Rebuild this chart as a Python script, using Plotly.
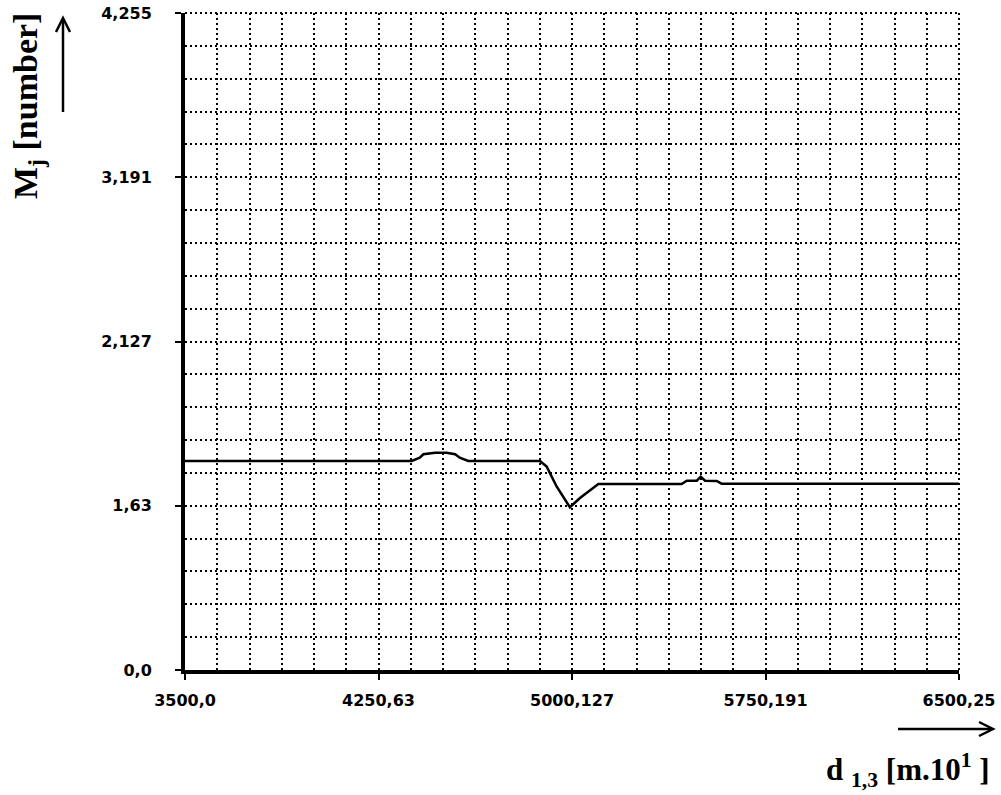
import plotly.graph_objects as go

# Data
d13 = [3500.0, 4379, 4410, 4424, 4469, 4514, 4547, 4565, 4598, 4876, 4902, 4941,
       4992, 5031, 5082, 5102, 5425, 5445, 5484, 5499, 5516, 5561, 5580, 6500.25]
mj = [1.354, 1.354, 1.375, 1.397, 1.407, 1.407, 1.397, 1.375, 1.354, 1.354, 1.317, 1.187,
      1.054, 1.114, 1.179, 1.205, 1.205, 1.226, 1.226, 1.252, 1.226, 1.224, 1.207, 1.207]

x_tickvals = [3500.0, 4250.0625, 5000.125, 5750.1875, 6500.25]
x_ticktext = ["3500,0", "4250,63", "5000,127", "5750,191", "6500,25"]
y_tickvals = [0.0, 1.06375, 2.1275, 3.19125, 4.255]
y_ticktext = ["0,0", "1,63", "2,127", "3,191", "4,255"]

fig = go.Figure()
fig.add_trace(go.Scatter(x=d13, y=mj, mode="lines",
                         line=dict(color="black", width=2.5), showlegend=False))

tickfont = dict(family="DejaVu Sans", size=16, color="black", weight="bold")
grid = dict(showgrid=True, gridcolor="black", gridwidth=2, griddash="2px,3px")

fig.update_xaxes(range=[3500.0, 6500.25], tickvals=x_tickvals, ticktext=x_ticktext,
                 tickfont=tickfont, ticks="outside", ticklen=6, tickwidth=2, tickcolor="black",
                 showline=True, linecolor="black", linewidth=4, zeroline=False,
                 ticklabelstandoff=7, automargin=False,
                 minor=dict(tick0=3500.0, dtick=3000.25 / 24, ticks="", **grid), **grid)
fig.update_yaxes(range=[0, 4.255], tickvals=y_tickvals, ticktext=y_ticktext,
                 tickfont=tickfont, ticks="outside", ticklen=6, tickwidth=2, tickcolor="black",
                 showline=True, linecolor="black", linewidth=4, zeroline=False,
                 ticklabelstandoff=20, automargin=False,
                 minor=dict(tick0=0, dtick=4.255 / 20, ticks="", **grid), **grid)

W, H = 1001, 795
L, R, T, B = 185, 42, 13, 125
pw, ph = W - L - R, H - T - B


def px(x):
    return (x - L) / pw


def py(y):
    return (H - B - y) / ph


# dotted border lines at the top and right edge (grid lines at the range ends)
for x0, y0, x1, y1 in [(0, 1, 1, 1), (1, 0, 1, 1)]:
    fig.add_shape(type="line", xref="paper", yref="paper", x0=x0, y0=y0, x1=x1, y1=y1,
                  line=dict(color="black", width=2, dash="2px,3px"))

title_font = dict(family="Liberation Serif", size=34, color="black", weight="bold")
fig.add_annotation(xref="paper", yref="paper", x=px(28), y=py(106), text="M<sub>j</sub> [number]",
                   textangle=-90, showarrow=False, font=title_font, xanchor="center", yanchor="middle")
fig.add_annotation(xref="paper", yref="paper", x=px(992), y=py(770),
                   text="d <sub>1,3</sub> [m.10<sup>1</sup> ]",
                   showarrow=False, font=dict(family="Liberation Serif", size=31, color="black", weight="bold"),
                   xanchor="right", yanchor="middle")


# arrows drawn as shapes (shaft + open V head)
def seg(pts):
    return "M " + " L ".join(f"{px(a)},{py(b)}" for a, b in pts)


arrow_line = dict(color="black", width=2.5)
fig.add_shape(type="path", xref="paper", yref="paper", path=seg([(63, 112), (63, 19)]), line=arrow_line)
fig.add_shape(type="path", xref="paper", yref="paper", path=seg([(56, 32), (63, 18), (70, 32)]), line=arrow_line)
fig.add_shape(type="path", xref="paper", yref="paper", path=seg([(898, 729), (992, 729)]), line=arrow_line)
fig.add_shape(type="path", xref="paper", yref="paper", path=seg([(979, 722), (993, 729), (979, 736)]), line=arrow_line)

fig.update_layout(width=W, height=H, margin=dict(l=L, r=R, t=T, b=B),
                  paper_bgcolor="white", plot_bgcolor="white")
fig.write_html("out.html")
